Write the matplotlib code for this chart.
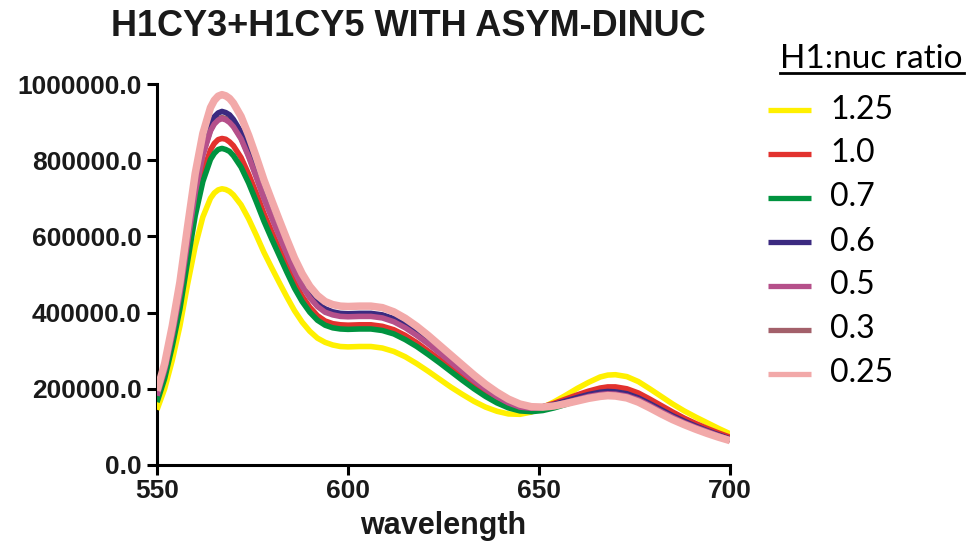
import matplotlib
matplotlib.use("Agg")
import matplotlib.pyplot as plt
from matplotlib.lines import Line2D
from matplotlib.ticker import FuncFormatter

wavelength = [550, 552, 554, 556, 558, 560, 562, 564, 565, 566, 567, 568, 569, 570,
              572, 574, 576, 578, 580, 582, 584, 586, 588, 590, 592, 594, 596, 598, 600,
              603, 606, 609, 612, 615, 618, 621, 624, 627, 630, 633, 636, 639, 642, 645,
              648, 651, 654, 657, 660, 663, 666, 668, 670, 673, 676, 679, 682, 685, 688,
              691, 694, 697, 700]

# intensity values, in thousands
r125 = [145, 200, 275, 365, 474, 574, 651, 700, 714, 722, 725, 723, 718, 709,
        683, 646, 603, 558, 518, 479, 441, 405, 375, 351, 333, 322, 315, 311, 310,
        311, 311, 307, 298, 284, 266, 246, 225, 204, 185, 167, 152, 141, 134, 133,
        139, 151, 166, 183, 201, 217, 231, 236, 237, 232, 219, 200, 180, 160, 142,
        126, 111, 96, 82]
r100 = [172, 235, 322, 423, 551, 675, 767, 827, 844, 854, 857, 855, 848, 838,
        807, 763, 713, 660, 613, 567, 522, 479, 443, 414, 392, 378, 371, 368, 367,
        368, 368, 364, 355, 340, 321, 299, 277, 254, 231, 208, 187, 169, 155, 148,
        147, 153, 162, 173, 184, 194, 202, 205, 205, 200, 189, 173, 156, 139, 123,
        109, 96, 84, 73]
r070 = [165, 227, 312, 410, 534, 654, 744, 802, 818, 828, 831, 828, 823, 812,
        782, 740, 691, 640, 594, 550, 506, 464, 429, 401, 380, 367, 360, 357, 356,
        357, 357, 353, 344, 329, 311, 290, 268, 245, 222, 200, 180, 163, 150, 142,
        140, 143, 150, 159, 169, 177, 183, 185, 184, 179, 169, 154, 138, 123, 110,
        98, 87, 76, 66]
r060 = [186, 254, 349, 458, 597, 731, 831, 896, 914, 924, 928, 925, 919, 907,
        874, 826, 772, 714, 664, 614, 565, 519, 479, 448, 425, 410, 402, 398, 397,
        398, 398, 394, 384, 367, 347, 324, 299, 274, 249, 224, 201, 181, 165, 154,
        150, 153, 159, 168, 177, 185, 191, 193, 192, 187, 176, 161, 145, 129, 115,
        102, 90, 79, 68]
r050 = [182, 249, 341, 449, 584, 715, 813, 877, 895, 905, 909, 906, 899, 888,
        856, 809, 755, 699, 650, 601, 554, 508, 469, 439, 416, 401, 394, 390, 389,
        390, 390, 386, 376, 360, 340, 318, 294, 269, 245, 221, 199, 179, 163, 152,
        149, 151, 156, 164, 172, 180, 185, 187, 186, 181, 171, 156, 140, 125, 111,
        99, 88, 77, 66]
r030 = [185, 252, 344, 452, 587, 718, 816, 880, 898, 908, 912, 909, 902, 891,
        859, 812, 758, 702, 653, 604, 557, 511, 472, 442, 419, 404, 397, 393, 392,
        393, 393, 389, 379, 363, 343, 321, 297, 272, 248, 224, 202, 182, 166, 155,
        151, 152, 156, 163, 171, 178, 183, 185, 184, 179, 169, 154, 138, 123, 109,
        97, 86, 75, 65]
r025 = [195, 266, 365, 480, 625, 765, 870, 938, 957, 968, 972, 969, 962, 950,
        915, 865, 808, 748, 695, 643, 592, 543, 502, 469, 445, 429, 421, 417, 416,
        417, 417, 413, 402, 385, 364, 340, 314, 288, 262, 236, 212, 191, 173, 160,
        153, 152, 155, 161, 168, 175, 180, 182, 181, 176, 165, 150, 134, 119, 106,
        94, 83, 73, 64]

labels = ["1.25", "1.0", "0.7", "0.6", "0.5", "0.3", "0.25"]
series = [r125, r100, r070, r060, r050, r030, r025]
colors = ["#FFF000", "#E2322E", "#00933F", "#3B2A80", "#B5508A", "#A3606A", "#F2A9A9"]
widths = [4.0, 4.0, 4.0, 4.0, 4.0, 4.0, 5.4]
zorders = [3, 4, 5, 6, 7, 2, 8]

fig = plt.figure(figsize=(9.72, 5.58), dpi=100)
ax = fig.add_axes([157 / 972, 1 - 465 / 558, (730 - 157) / 972, (465 - 84) / 558])

for vals, c, lw, z in zip(series, colors, widths, zorders):
    ax.plot(wavelength, [v * 1000 for v in vals], color=c, lw=lw, zorder=z,
            solid_capstyle="butt", solid_joinstyle="round")

ax.set_xlim(550, 700)
ax.set_ylim(0, 1000000)
ax.set_xticks([550, 600, 650, 700])
ax.set_yticks([0, 200000, 400000, 600000, 800000, 1000000])
ax.yaxis.set_major_formatter(FuncFormatter(lambda v, p: f"{v:.1f}"))
for s in ["top", "right"]:
    ax.spines[s].set_visible(False)
for s in ["left", "bottom"]:
    ax.spines[s].set_linewidth(2.2)
ax.tick_params(axis="both", direction="out", length=7, width=2.2, color="black")
ax.tick_params(axis="y", pad=4)
ax.tick_params(axis="x", pad=3)
for lab in ax.get_xticklabels() + ax.get_yticklabels():
    lab.set_fontfamily("Liberation Sans")
    lab.set_fontweight("bold")
    lab.set_fontsize(19)
    lab.set_color("#1a1a1a")

ax.set_xlabel("wavelength", fontsize=22, fontweight="bold", family="Liberation Sans",
              color="#1a1a1a", labelpad=6)

fig.text(408 / 972, 1 - 27 / 558, "H1CY3+H1CY5 WITH ASYM-DINUC", ha="center", va="center",
         fontsize=26, fontweight="bold", family="Liberation Sans", color="#1a1a1a")

# legend (manual)
fig.text(871 / 972, 1 - 59 / 558, "H1:nuc ratio", ha="center", va="center",
         fontsize=24, family="Lato", color="black")
fig.add_artist(Line2D([780 / 972, 964 / 972], [1 - 72.5 / 558, 1 - 72.5 / 558],
                      color="black", lw=2.0, transform=fig.transFigure))
row_y = [110, 153.5, 197.5, 241.5, 285.5, 329.5, 373.5]
for lab, c, yy in zip(labels, colors, row_y):
    yf = 1 - yy / 558
    fig.add_artist(Line2D([768 / 972, 811 / 972], [yf, yf], color=c, lw=3.8,
                          transform=fig.transFigure, solid_capstyle="butt"))
    fig.text(830 / 972, yf, lab, ha="left", va="center", fontsize=23, family="Lato",
             color="black")

fig.savefig("out.png", dpi=100)
